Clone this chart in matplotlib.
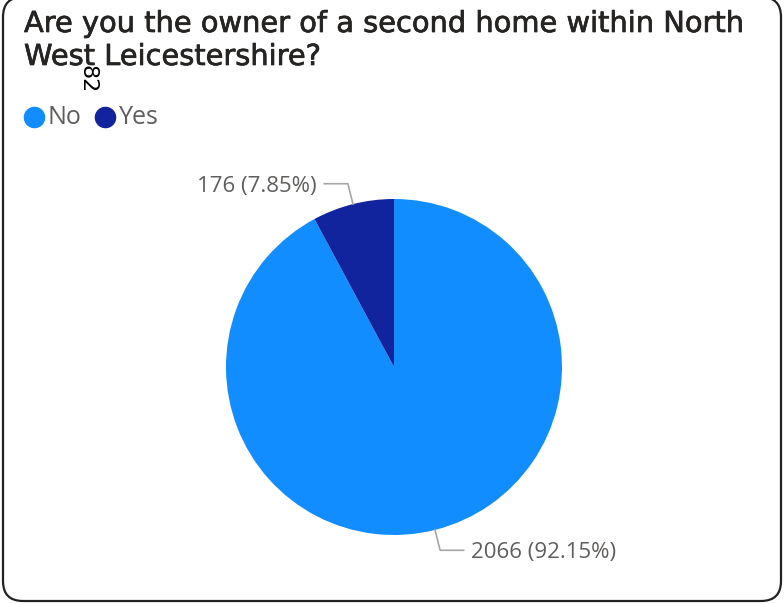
import numpy as np
import matplotlib
matplotlib.use("Agg")
import matplotlib.pyplot as plt
from matplotlib.patches import FancyBboxPatch
import matplotlib.patheffects as pe

title_lines = ["Are you the owner of a second home within North", "West Leicestershire?"]
categories = ["No", "Yes"]
values = [2066, 176]
percent_labels = ["92.15%", "7.85%"]
colors = ["#118DFF", "#12239E"]

W, H = 784, 604
fig = plt.figure(figsize=(W / 100, H / 100), dpi=100)

# overlay axes in pixel coordinates
ov = fig.add_axes([0, 0, 1, 1])
ov.set_xlim(0, W)
ov.set_ylim(H, 0)
ov.axis("off")

border = FancyBboxPatch((3, -3), 778, 604, boxstyle="round,pad=0,rounding_size=20",
                        fill=False, edgecolor="#222222", linewidth=1.6, clip_on=False)
ov.add_patch(border)

for line, yb in zip(title_lines, [32, 65]):
    ov.text(24, yb, line, fontsize=20.8, family="DejaVu Sans", color="#252423",
            va="baseline", ha="left",
            path_effects=[pe.withStroke(linewidth=0.5, foreground="#252423")])
ov.text(88, 79, "82", fontsize=16, family="DejaVu Sans", color="black",
        rotation=-90, ha="center", va="center")

# legend
lx = 34.5
for cat, col in zip(categories, colors):
    ov.plot([lx], [117], "o", markersize=14.5, color=col)
    ov.text(lx + 13.5, 117, cat, fontsize=18, family="Open Sans", color="#605E5C",
            va="center", ha="left")
    lx += 71

# pie
cx, cy, r = 394, 367, 168
ax = fig.add_axes([(cx - r) / W, (H - cy - r) / H, 2 * r / W, 2 * r / H])
wedges, _ = ax.pie(values, colors=colors, startangle=90, counterclock=False,
                   radius=1, wedgeprops=dict(linewidth=0))
ax.set_xlim(-1, 1)
ax.set_ylim(-1, 1)
ax.set_aspect("equal")
ax.axis("off")

for w, v, p in zip(wedges, values, percent_labels):
    ang = np.deg2rad((w.theta1 + w.theta2) / 2)
    x0, y0 = np.cos(ang), np.sin(ang)
    x1, y1 = 1.125 * x0, 1.125 * y0
    sign = 1 if x0 > 0 else -1
    x2 = x1 + sign * 0.14
    ax.plot([x0, x1, x2], [y0, y1, y1], color="#A6A6A6", lw=1.2, clip_on=False)
    ax.text(x2 + sign * 0.045, y1, f"{v} ({p})", fontsize=16, family="Open Sans",
            color="#605E5C", ha="left" if sign > 0 else "right", va="center_baseline")

fig.savefig("out.png", dpi=100)
